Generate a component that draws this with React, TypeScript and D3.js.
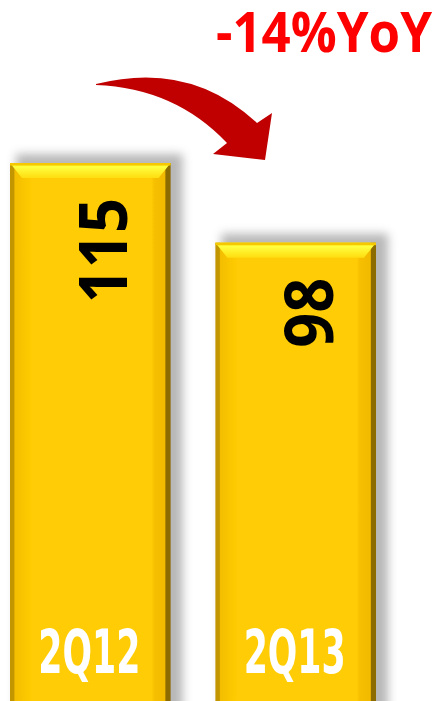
import React from 'react';
import * as d3 from 'd3';

const W = 441;
const H = 701;

// chart data
const quarters = ['2Q12', '2Q13'];
const values = [115, 98];
const changeLabel = '-14%YoY';

const App = () => {
  const x = d3.scaleBand<string>()
    .domain(quarters)
    .range([10, 376])
    .paddingInner(0.218)
    .paddingOuter(0);

  const y = d3.scaleLinear()
    .domain([0, 115])
    .range([702, 163]);

  const bw = x.bandwidth();
  const bevel = 12;

  return (
    <svg width={W} height={H} style={{ position: 'absolute', left: 0, top: 0, background: '#fff' }}>
      <defs>
        <linearGradient id="body" x1="0" x2="1" y1="0" y2="0">
          <stop offset="0%" stopColor="#C29600" />
          <stop offset="2.5%" stopColor="#C29600" />
          <stop offset="3%" stopColor="#F3BE00" />
          <stop offset="11%" stopColor="#FCC900" />
          <stop offset="14%" stopColor="#FFCC05" />
          <stop offset="88%" stopColor="#FFCC05" />
          <stop offset="90%" stopColor="#F6BF00" />
          <stop offset="96.5%" stopColor="#F2BA00" />
          <stop offset="97%" stopColor="#8C6B00" />
          <stop offset="100%" stopColor="#8C6B00" />
        </linearGradient>
        <linearGradient id="bevel" x1="0" x2="0" y1="0" y2="1">
          <stop offset="0%" stopColor="#FFE810" />
          <stop offset="25%" stopColor="#FFFF40" />
          <stop offset="100%" stopColor="#FFDD10" />
        </linearGradient>
        <filter id="shadow" x="-20%" y="-20%" width="140%" height="140%">
          <feGaussianBlur stdDeviation="5" />
        </filter>
      </defs>

      {/* shadows */}
      {quarters.map((q, i) => (
        <rect
          key={'s' + q}
          x={x(q)! + 6}
          y={y(values[i]) - 9}
          width={bw + 6}
          height={H}
          fill="#9a9a9a"
          opacity={0.7}
          filter="url(#shadow)"
        />
      ))}

      {/* bars */}
      {quarters.map((q, i) => {
        const x0 = x(q)!;
        const top = y(values[i]);
        return (
          <g key={q}>
            <rect x={x0} y={top} width={bw} height={y(0) - top} fill="url(#body)" />
            <polygon
              points={`${x0},${top} ${x0 + bw},${top} ${x0 + bw - bevel},${top + bevel + 3} ${x0 + bevel},${top + bevel + 3}`}
              fill="url(#bevel)"
            />
            <rect x={x0} y={top} width={bw} height={2.5} fill="#F5C800" />
          </g>
        );
      })}

      {/* value labels, rotated */}
      {quarters.map((q, i) => {
        const cx = x(q)! + bw / 2;
        const top = y(values[i]);
        const label = String(values[i]);
        return (
          <text
            key={'v' + q}
            transform={`translate(${cx + 37},${top + 35}) rotate(-90)`}
            textAnchor="end"
            fontFamily="'Open Sans', 'Liberation Sans', sans-serif"
            fontWeight="bold"
            fontSize={66}
            textLength={label.length * 35}
            lengthAdjust="spacingAndGlyphs"
            fill="#000"
          >
            {label}
          </text>
        );
      })}

      {/* category labels */}
      {quarters.map((q) => (
        <text
          key={'c' + q}
          x={x(q)! + bw / 2 - 1}
          y={673}
          textAnchor="middle"
          fontFamily="'Liberation Sans Narrow', 'DejaVu Sans Condensed', sans-serif"
          fontWeight="bold"
          fontSize={60}
          textLength={102}
          lengthAdjust="spacingAndGlyphs"
          fill="#fff"
        >
          {q}
        </text>
      ))}

      {/* curved arrow */}
      <path
        d="M96,84 Q190,60 257,123 L272,113 L265,160 L213,154 L227,143 Q175,88 96,85 Z"
        fill="#C00000"
      />

      <text
        x={432}
        y={52}
        textAnchor="end"
        fontFamily="'Open Sans', 'Liberation Sans', sans-serif"
        fontWeight="bold"
        fontSize={55}
        textLength={216}
        lengthAdjust="spacingAndGlyphs"
        fill="#FF0000"
      >
        {changeLabel}
      </text>
    </svg>
  );
};

export default App;
